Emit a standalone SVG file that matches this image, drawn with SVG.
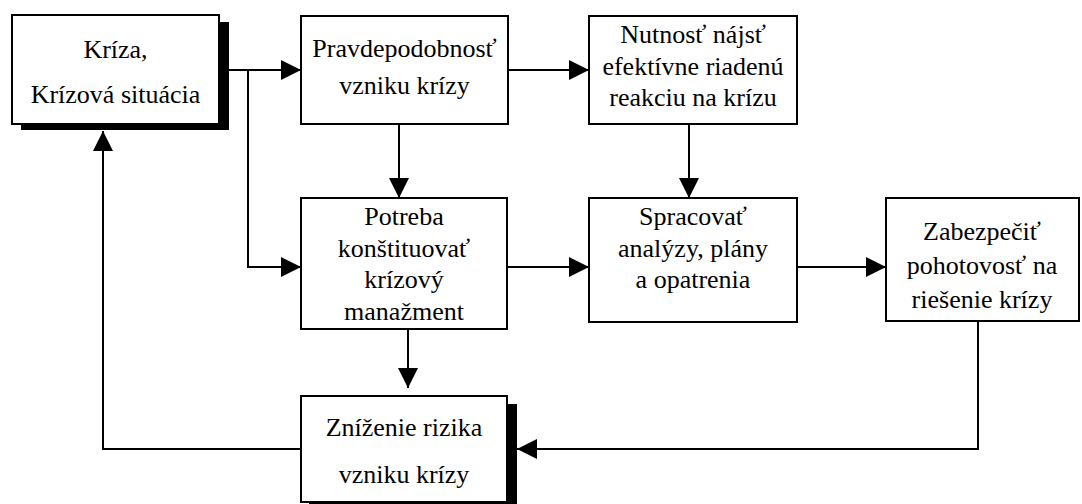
<svg xmlns="http://www.w3.org/2000/svg" width="1082" height="504" viewBox="0 0 1082 504">
<style>
.box{fill:#fff;stroke:#000;stroke-width:2}
.shadow{fill:#000}
text{font-family:'Liberation Serif','Times New Roman',Times,'DejaVu Serif',serif;font-size:26px;fill:#000;text-anchor:middle}
.c{fill:none;stroke:#000;stroke-width:2}
</style>
<defs>
<marker id="arr" markerUnits="userSpaceOnUse" markerWidth="20" markerHeight="20" refX="20" refY="10" orient="auto">
<path d="M0,0 L20,10 L0,20 z" fill="#000"/>
</marker>
</defs>
<rect width="1082" height="504" fill="#fff"/>
<g id="connectors">
<path class="c" d="M229,70 H301" marker-end="url(#arr)"/>
<path class="c" d="M248,70 V267 H301" marker-end="url(#arr)"/>
<path class="c" d="M508,70 H589" marker-end="url(#arr)"/>
<path class="c" d="M399,124 V198" marker-end="url(#arr)"/>
<path class="c" d="M689,124 V198" marker-end="url(#arr)"/>
<path class="c" d="M507,267 H589" marker-end="url(#arr)"/>
<path class="c" d="M797,267 H886" marker-end="url(#arr)"/>
<path class="c" d="M408,329 V388" marker-end="url(#arr)"/>
<path class="c" d="M978,321 V449 H517" marker-end="url(#arr)"/>
<path class="c" d="M301,449 H103 V131" marker-end="url(#arr)"/>
</g>
<g id="kriza">
<rect class="shadow" x="21" y="22" width="208" height="108"/>
<rect class="box" x="12" y="15" width="207" height="109"/>
<text x="115.5" y="58">Kríza,</text>
<text x="115.5" y="103">Krízová situácia</text>
</g>
<g id="pravdepodobnost">
<rect class="box" x="301" y="16" width="207" height="108"/>
<text x="404.5" y="57">Pravdepodobnosť</text>
<text x="404.5" y="94">vzniku krízy</text>
</g>
<g id="nutnost">
<rect class="box" x="589" y="16" width="208" height="108"/>
<text x="693" y="43">Nutnosť nájsť</text>
<text x="693" y="75">efektívne riadenú</text>
<text x="693" y="106">reakciu na krízu</text>
</g>
<g id="potreba">
<rect class="box" x="301" y="198" width="206" height="131"/>
<text x="404" y="225">Potreba</text>
<text x="404" y="257">konštituovať</text>
<text x="404" y="288">krízový</text>
<text x="404" y="320">manažment</text>
</g>
<g id="spracovat">
<rect class="box" x="589" y="198" width="208" height="124"/>
<text x="693" y="225">Spracovať</text>
<text x="693" y="257">analýzy, plány</text>
<text x="693" y="288">a opatrenia</text>
</g>
<g id="zabezpecit">
<rect class="box" x="886" y="198" width="193" height="123"/>
<text x="982" y="240">Zabezpečiť</text>
<text x="982" y="274">pohotovosť na</text>
<text x="982" y="308">riešenie krízy</text>
</g>
<g id="znizenie">
<rect class="shadow" x="309" y="404" width="208" height="110"/>
<rect class="box" x="301" y="396" width="206" height="106"/>
<text x="404" y="436">Zníženie rizika</text>
<text x="404" y="483">vzniku krízy</text>
</g>
</svg>
